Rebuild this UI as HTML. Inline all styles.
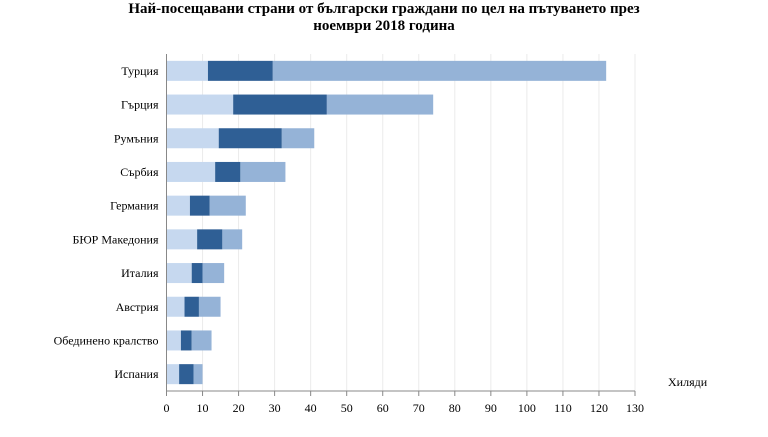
<!DOCTYPE html>
<html><head><meta charset="utf-8"><style>
body{margin:0;background:#fff;width:768px;height:432px;overflow:hidden}
text{font-family:"Liberation Serif","DejaVu Serif",serif}
</style></head><body>
<svg id="chart" width="768" height="432">
<text x="384" y="13" text-anchor="middle" font-size="15" font-weight="bold">Най-посещавани страни от български граждани по цел на пътуването през</text>
<text x="384" y="30" text-anchor="middle" font-size="15" font-weight="bold">ноември 2018 година</text>
<g id="grid"></g><g id="bars"></g><g id="axes"></g>
<text x="668" y="386" font-size="12">Хиляди</text>
</svg>
<script>
const categories=["Турция","Гърция","Румъния","Сърбия","Германия","БЮР Македония","Италия","Австрия","Обединено кралство","Испания"];
const seriesA=[11.5,18.5,14.5,13.5,6.5,8.5,7,5,4,3.5];
const seriesB=[18,26,17.5,7,5.5,7,3,4,3,4];
const seriesC=[92.5,29.5,9,12.5,10,5.5,6,6,5.5,2.5];
const ticks=[0,10,20,30,40,50,60,70,80,90,100,110,120,130];
const colors=["#c6d8ef","#2f5f95","#95b3d7"];
const NS="http://www.w3.org/2000/svg";
const x0=166.5,x1=635,yTop=54,yBot=391;
const xs=v=>x0+(x1-x0)*v/130;
const band=(yBot-yTop)/categories.length;
const yc=i=>yTop+band*(i+0.5);
function mk(t,a,p){const e=document.createElementNS(NS,t);for(const k in a)e.setAttribute(k,a[k]);p.appendChild(e);return e;}
const g=document.getElementById('grid'),b=document.getElementById('bars'),ax=document.getElementById('axes');
ticks.forEach(t=>{
 if(t>0){const l=mk('line',{x1:xs(t),x2:xs(t),y1:yTop,y2:yBot,stroke:'#ebebeb'},g);
 
 }
 const tk=mk('line',{x1:xs(t),x2:xs(t),y1:yBot,y2:yBot+5,stroke:'#888'},ax);
 
 
 const tx=mk('text',{x:xs(t),y:yBot+21,'text-anchor':'middle','font-size':12},ax);
 tx.textContent=t;
 
 
});
categories.forEach((c,i)=>{
 const vals=[seriesA[i],seriesB[i],seriesC[i]];let acc=0;
 vals.forEach((v,j)=>{
  const r=mk('rect',{x:xs(acc),y:yc(i)-10,width:xs(acc+v)-xs(acc),height:20,fill:colors[j]},b);
  
  
  acc+=v;
 });
 const t=mk('text',{x:x0-8,y:yc(i)+4,'text-anchor':'end','font-size':12},ax);
 t.textContent=c;
 
 
});
const la=mk('line',{x1:x0,x2:x0,y1:yTop,y2:yBot,stroke:'#888'},ax);


const lb=mk('line',{x1:x0,x2:x1,y1:yBot,y2:yBot,stroke:'#888'},ax);


</script>
</body></html>
